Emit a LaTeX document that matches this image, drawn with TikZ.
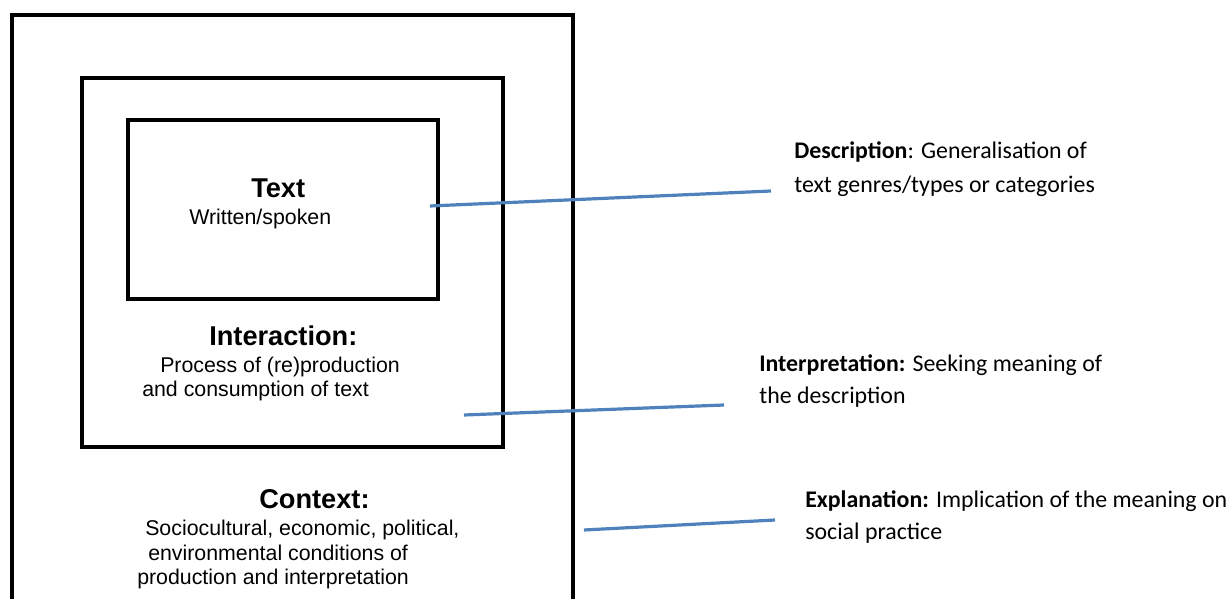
\documentclass[tikz,border=0pt]{standalone}
\usepackage{fontspec}
\setmainfont{Liberation Sans}
\newfontfamily\labelfont{Carlito}
\definecolor{linkblue}{RGB}{79,129,189}
\begin{document}
\begin{tikzpicture}[x=0.75pt,y=-0.75pt,
    frame/.style={draw=black, line width=2.4pt},
    link/.style={draw=linkblue, line width=2.4pt},
    boxtitle/.style={anchor=base west, inner sep=0pt, font=\bfseries\fontsize{20.4}{23}\selectfont},
    boxtext/.style={anchor=base west, inner sep=0pt, font=\fontsize{16}{19}\selectfont},
    sidetext/.style={anchor=base west, inner sep=0pt, font=\labelfont\fontsize{17.9}{24}\selectfont}]
      \clip (0,0) rectangle (1232,599);

      % nested frames
      \draw[frame] (12,15) rectangle (573,640);
      \draw[frame] (82,78) rectangle (503,447);
      \draw[frame] (128,120) rectangle (438,299);

      % labels inside the frames
      \node[boxtitle] (text) at (251,198) {Text};
      \node[boxtext] (textsub) at (189,224) {Written/spoken};
      \node[boxtitle] (inter) at (209,345) {Interaction:};
      \node[boxtext] (intersub1) at (160,372) {Process of (re)production};
      \node[boxtext] (intersub2) at (142,396) {and consumption of text};
      \node[boxtitle] (context) at (259,508) {Context:};
      \node[boxtext] (contextsub1) at (145,535) {Sociocultural, economic, political,};
      \node[boxtext] (contextsub2) at (148,560) {environmental conditions of};
      \node[boxtext] (contextsub3) at (137,584) {production and interpretation};

      % labels on the right
      \node[sidetext] (desc1) at (794,159) {\textbf{Description}: Generalisation of};
      \node[sidetext] (desc2) at (794,193) {text genres/types or categories};
      \node[sidetext] (interp1) at (759,371) {\textbf{Interpretation:} Seeking meaning of};
      \node[sidetext] (interp2) at (759,403) {the description};
      \node[sidetext] (expl1) at (805,507) {\textbf{Explanation:} Implication of the meaning on};
      \node[sidetext] (expl2) at (805,539) {social practice};

      % connectors
      \coordinate (descA) at (430,206);
      \coordinate (descB) at (771,191);
      \coordinate (interpA) at (464,415);
      \coordinate (interpB) at (724,405);
      \coordinate (explA) at (584,530);
      \coordinate (explB) at (775,520);
      \draw[link] (descA) -- (descB);
      \draw[link] (interpA) -- (interpB);
      \draw[link] (explA) -- (explB);
    \end{tikzpicture}
\end{document}
